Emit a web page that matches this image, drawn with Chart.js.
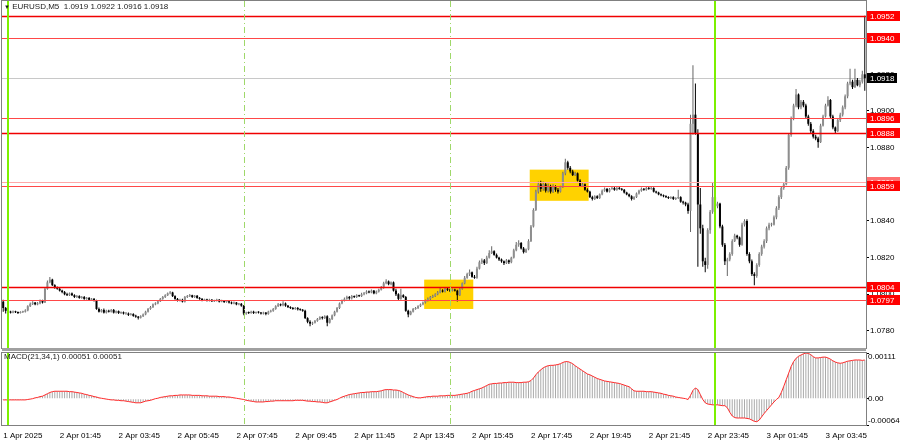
<!DOCTYPE html>
<html>
<head>
    <title>EURUSD,M5</title>
    <style>
        body{ margin:0; background:#fff; }
        #wrap{ position:relative; width:900px; height:441px; overflow:hidden; }
        canvas{ position:absolute; left:0; }
        #price{ top:0; }
        #macd{ top:350px; }
        .caption{ position:absolute; font:8px "Liberation Sans", Arial, sans-serif; line-height:10px; color:#1a1a1a; white-space:pre; }
        .sep{ position:absolute; left:2px; top:348px; width:864px; height:3px; background:#a0a0a0; }
    </style>
</head>
<body>
<div id="wrap">
    <canvas id="price" width="900" height="350"></canvas>
    <canvas id="macd" width="900" height="91"></canvas>
    <div class="sep"></div>
    <div class="caption" style="left:4px;top:2px"><span style="font-size:6px">▼</span> EURUSD,M5  1.0919 1.0922 1.0916 1.0918</div>
    <div class="caption" style="left:4px;top:352px">MACD(21,34,1) 0.00051 0.00051</div>
</div>

<script src="https://cdn.jsdelivr.net/npm/chart.js@4.4.0/dist/chart.umd.min.js"></script>
<script>

    // M5 bars, first one is 1 Apr 23:50
    const firstOpen = 1.07960;

    const closes = [
        1.07925, 1.07910,
        1.07905, 1.07900, 1.07906, 1.07902, 1.07898, 1.07903, 1.07905, 1.07912, 1.07935, 1.07948, 1.07955, 1.07945,
        1.07950, 1.07965, 1.07955, 1.08030, 1.08065, 1.08080, 1.08050, 1.08035, 1.08030, 1.08020, 1.08012, 1.08000,
        1.07995, 1.08005, 1.07995, 1.07985, 1.07990, 1.07980, 1.07985, 1.07975, 1.07980, 1.07970, 1.07975, 1.07965,
        1.07920, 1.07905, 1.07915, 1.07900, 1.07910, 1.07905, 1.07915, 1.07900, 1.07908, 1.07898, 1.07902, 1.07895,
        1.07895, 1.07888, 1.07892, 1.07882, 1.07878, 1.07872, 1.07880, 1.07890, 1.07905, 1.07920, 1.07930, 1.07945,
        1.07950, 1.07962, 1.07975, 1.07985, 1.07995, 1.08005, 1.08010, 1.07990, 1.07975, 1.07965, 1.07970, 1.07960,
        1.07985, 1.07990, 1.07995, 1.07985, 1.07992, 1.07980, 1.07975, 1.07968, 1.07972, 1.07965, 1.07970, 1.07962,
        1.07965, 1.07970, 1.07960, 1.07965, 1.07958, 1.07962, 1.07955, 1.07950, 1.07955, 1.07945, 1.07948, 1.07938,
        1.07895, 1.07900, 1.07898, 1.07905, 1.07898, 1.07902, 1.07900, 1.07895, 1.07900, 1.07893, 1.07905, 1.07910, 1.07920,
        1.07935, 1.07945, 1.07940, 1.07950, 1.07938, 1.07930, 1.07925, 1.07920, 1.07925, 1.07918, 1.07915, 1.07910,
        1.07870, 1.07850, 1.07840, 1.07845, 1.07855, 1.07865, 1.07875, 1.07870, 1.07880, 1.07845, 1.07865, 1.07885,
        1.07905, 1.07925, 1.07950, 1.07965, 1.07975, 1.07985, 1.07978, 1.07990, 1.07985, 1.07995, 1.07990, 1.08000,
        1.08005, 1.08015, 1.08010, 1.08020, 1.08005, 1.08015, 1.08025, 1.08035, 1.08060, 1.08070, 1.08055, 1.08065,
        1.08020, 1.08000, 1.07975, 1.07995, 1.07985, 1.07910, 1.07890, 1.07905, 1.07920, 1.07925, 1.07935, 1.07945,
        1.07955, 1.07965, 1.07975, 1.07985, 1.07990, 1.08000, 1.08010, 1.08020, 1.08015, 1.08030, 1.08025, 1.08020,
        1.08025, 1.08020, 1.07995, 1.08030, 1.08060, 1.08090, 1.08110, 1.08120, 1.08095, 1.08090, 1.08140, 1.08175,
        1.08185, 1.08170, 1.08200, 1.08225, 1.08235, 1.08215, 1.08200, 1.08190, 1.08180, 1.08170, 1.08185, 1.08175,
        1.08200, 1.08240, 1.08270, 1.08280, 1.08250, 1.08230, 1.08245, 1.08290, 1.08370, 1.08460, 1.08560, 1.08600,
        1.08575, 1.08600, 1.08565, 1.08590, 1.08560, 1.08585, 1.08570, 1.08560, 1.08585, 1.08660, 1.08720, 1.08690,
        1.08670, 1.08650, 1.08660, 1.08620, 1.08590, 1.08600, 1.08570, 1.08560, 1.08530, 1.08520, 1.08535, 1.08525,
        1.08545, 1.08565, 1.08575, 1.08560, 1.08575, 1.08580, 1.08570, 1.08580, 1.08575, 1.08570, 1.08555, 1.08545,
        1.08535, 1.08520, 1.08530, 1.08550, 1.08565, 1.08575, 1.08570, 1.08580, 1.08575, 1.08580, 1.08560, 1.08555,
        1.08545, 1.08540, 1.08535, 1.08530, 1.08525, 1.08530, 1.08520, 1.08525, 1.08530, 1.08505, 1.08500, 1.08490,
        1.08455, 1.08930, 1.08980, 1.08880, 1.08490, 1.08360, 1.08180, 1.08160, 1.08350, 1.08450, 1.08530, 1.08480,
        1.08495, 1.08370, 1.08270, 1.08180, 1.08190, 1.08220, 1.08290, 1.08320, 1.08310, 1.08270, 1.08380, 1.08400,
        1.08220, 1.08180, 1.08110, 1.08100, 1.08160, 1.08220, 1.08260, 1.08290, 1.08360, 1.08380, 1.08380, 1.08420, 1.08470,
        1.08530, 1.08580, 1.08600, 1.08690, 1.08870, 1.08960, 1.09030, 1.09090, 1.09020, 1.09050, 1.09030, 1.08970,
        1.08930, 1.08890, 1.08860, 1.08850, 1.08830, 1.08920, 1.08970, 1.09030, 1.09060, 1.08970, 1.08910, 1.08890,
        1.08950, 1.08980, 1.09020, 1.09080, 1.09150, 1.09160, 1.09130, 1.09170, 1.09140, 1.09160, 1.09200, 1.09180
    ];

    const highs = [
        1.07970, 1.07930,
        1.07915, 1.07910, 1.07912, 1.07910, 1.07906, 1.07908, 1.07910, 1.07918, 1.07940, 1.07955, 1.07962, 1.07958,
        1.07958, 1.07972, 1.07970, 1.08040, 1.08075, 1.08095, 1.08085, 1.08055, 1.08042, 1.08035, 1.08025, 1.08018,
        1.08008, 1.08010, 1.08010, 1.08000, 1.07996, 1.07995, 1.07990, 1.07990, 1.07985, 1.07985, 1.07980, 1.07980,
        1.07970, 1.07928, 1.07920, 1.07922, 1.07915, 1.07915, 1.07920, 1.07920, 1.07912, 1.07912, 1.07906, 1.07906,
        1.07902, 1.07900, 1.07898, 1.07896, 1.07888, 1.07882, 1.07885, 1.07895, 1.07910, 1.07925, 1.07936, 1.07950,
        1.07956, 1.07968, 1.07980, 1.07990, 1.08000, 1.08010, 1.08018, 1.08014, 1.07995, 1.07980, 1.07976, 1.07975,
        1.07990, 1.07996, 1.08002, 1.07998, 1.07996, 1.07996, 1.07985, 1.07980, 1.07976, 1.07976, 1.07975, 1.07974,
        1.07970, 1.07975, 1.07974, 1.07970, 1.07968, 1.07966, 1.07966, 1.07960, 1.07960, 1.07958, 1.07952, 1.07952,
        1.07942, 1.07905, 1.07906, 1.07910, 1.07910, 1.07906, 1.07908, 1.07904, 1.07905, 1.07904, 1.07910, 1.07916, 1.07925,
        1.07940, 1.07952, 1.07950, 1.07962, 1.07955, 1.07942, 1.07935, 1.07930, 1.07930, 1.07930, 1.07922, 1.07920,
        1.07915, 1.07875, 1.07858, 1.07850, 1.07860, 1.07870, 1.07880, 1.07880, 1.07885, 1.07885, 1.07870, 1.07890,
        1.07910, 1.07930, 1.07955, 1.07972, 1.07982, 1.07992, 1.07990, 1.07996, 1.07994, 1.08000, 1.07998, 1.08008,
        1.08012, 1.08022, 1.08020, 1.08026, 1.08024, 1.08020, 1.08030, 1.08045, 1.08068, 1.08082, 1.08075, 1.08070,
        1.08070, 1.08030, 1.08005, 1.08030, 1.08000, 1.07990, 1.07915, 1.07910, 1.07925, 1.07930, 1.07940, 1.07950,
        1.07960, 1.07972, 1.07982, 1.07990, 1.07998, 1.08006, 1.08018, 1.08040, 1.08028, 1.08036, 1.08035, 1.08030,
        1.08032, 1.08030, 1.08025, 1.08035, 1.08065, 1.08100, 1.08118, 1.08135, 1.08125, 1.08105, 1.08150, 1.08185,
        1.08195, 1.08192, 1.08210, 1.08240, 1.08262, 1.08240, 1.08222, 1.08205, 1.08195, 1.08185, 1.08192, 1.08190,
        1.08205, 1.08248, 1.08285, 1.08295, 1.08285, 1.08258, 1.08250, 1.08300, 1.08378, 1.08470, 1.08570, 1.08615,
        1.08620, 1.08615, 1.08610, 1.08605, 1.08598, 1.08600, 1.08595, 1.08580, 1.08592, 1.08668, 1.08740, 1.08728,
        1.08700, 1.08680, 1.08668, 1.08665, 1.08628, 1.08610, 1.08605, 1.08578, 1.08565, 1.08538, 1.08540, 1.08540,
        1.08550, 1.08572, 1.08582, 1.08580, 1.08580, 1.08588, 1.08585, 1.08586, 1.08585, 1.08580, 1.08575, 1.08560,
        1.08550, 1.08540, 1.08535, 1.08555, 1.08570, 1.08582, 1.08580, 1.08586, 1.08585, 1.08585, 1.08584, 1.08565,
        1.08560, 1.08550, 1.08545, 1.08540, 1.08535, 1.08535, 1.08535, 1.08530, 1.08570, 1.08535, 1.08510, 1.08505,
        1.08500, 1.08980, 1.09250, 1.09150, 1.08900, 1.08580, 1.08380, 1.08200, 1.08360, 1.08460, 1.08610, 1.08540,
        1.08505, 1.08500, 1.08380, 1.08280, 1.08200, 1.08230, 1.08300, 1.08330, 1.08325, 1.08315, 1.08390, 1.08410,
        1.08410, 1.08230, 1.08190, 1.08120, 1.08170, 1.08230, 1.08270, 1.08300, 1.08370, 1.08390, 1.08390, 1.08430, 1.08480,
        1.08540, 1.08590, 1.08610, 1.08700, 1.08880, 1.08970, 1.09040, 1.09120, 1.09095, 1.09060, 1.09060, 1.09040,
        1.08980, 1.08940, 1.08900, 1.08870, 1.08860, 1.08930, 1.08980, 1.09040, 1.09080, 1.09065, 1.08980, 1.08915,
        1.08960, 1.08990, 1.09030, 1.09090, 1.09160, 1.09230, 1.09170, 1.09230, 1.09180, 1.09170, 1.09220, 1.09520
    ];

    const lows = [
        1.07905, 1.07895,
        1.07898, 1.07895, 1.07896, 1.07898, 1.07892, 1.07895, 1.07898, 1.07900, 1.07908, 1.07930, 1.07942, 1.07940,
        1.07940, 1.07945, 1.07950, 1.07952, 1.08025, 1.08060, 1.08045, 1.08030, 1.08025, 1.08015, 1.08005, 1.07995,
        1.07990, 1.07990, 1.07990, 1.07980, 1.07980, 1.07975, 1.07976, 1.07970, 1.07970, 1.07965, 1.07966, 1.07960,
        1.07915, 1.07900, 1.07900, 1.07895, 1.07895, 1.07900, 1.07900, 1.07895, 1.07895, 1.07892, 1.07893, 1.07890,
        1.07888, 1.07882, 1.07884, 1.07878, 1.07872, 1.07862, 1.07868, 1.07876, 1.07886, 1.07900, 1.07915, 1.07925,
        1.07940, 1.07946, 1.07958, 1.07970, 1.07980, 1.07990, 1.08000, 1.07985, 1.07970, 1.07960, 1.07960, 1.07955,
        1.07955, 1.07980, 1.07985, 1.07980, 1.07980, 1.07976, 1.07970, 1.07962, 1.07964, 1.07960, 1.07960, 1.07958,
        1.07958, 1.07960, 1.07955, 1.07956, 1.07953, 1.07954, 1.07950, 1.07945, 1.07946, 1.07940, 1.07940, 1.07932,
        1.07885, 1.07888, 1.07892, 1.07894, 1.07892, 1.07894, 1.07895, 1.07890, 1.07890, 1.07886, 1.07888, 1.07900, 1.07905,
        1.07915, 1.07930, 1.07935, 1.07935, 1.07932, 1.07925, 1.07920, 1.07915, 1.07916, 1.07912, 1.07910, 1.07905,
        1.07865, 1.07842, 1.07825, 1.07832, 1.07840, 1.07850, 1.07860, 1.07862, 1.07865, 1.07825, 1.07840, 1.07860,
        1.07880, 1.07900, 1.07920, 1.07945, 1.07960, 1.07970, 1.07970, 1.07972, 1.07980, 1.07980, 1.07985, 1.07985,
        1.07995, 1.08000, 1.08005, 1.08005, 1.08000, 1.08000, 1.08010, 1.08020, 1.08030, 1.08055, 1.08050, 1.08050,
        1.08015, 1.07990, 1.07965, 1.07970, 1.07980, 1.07905, 1.07875, 1.07885, 1.07900, 1.07915, 1.07920, 1.07930,
        1.07940, 1.07950, 1.07960, 1.07968, 1.07980, 1.07985, 1.07995, 1.08005, 1.08010, 1.08010, 1.08018, 1.08012,
        1.08015, 1.08015, 1.07960, 1.07990, 1.08025, 1.08055, 1.08085, 1.08100, 1.08090, 1.08085, 1.08085, 1.08135,
        1.08165, 1.08160, 1.08165, 1.08195, 1.08220, 1.08210, 1.08195, 1.08182, 1.08172, 1.08160, 1.08165, 1.08165,
        1.08170, 1.08195, 1.08235, 1.08260, 1.08245, 1.08222, 1.08225, 1.08240, 1.08285, 1.08365, 1.08455, 1.08550,
        1.08560, 1.08565, 1.08555, 1.08555, 1.08550, 1.08552, 1.08560, 1.08550, 1.08555, 1.08580, 1.08650, 1.08680,
        1.08660, 1.08645, 1.08645, 1.08615, 1.08585, 1.08585, 1.08565, 1.08555, 1.08525, 1.08512, 1.08515, 1.08520,
        1.08520, 1.08540, 1.08560, 1.08555, 1.08555, 1.08570, 1.08565, 1.08565, 1.08570, 1.08565, 1.08550, 1.08540,
        1.08530, 1.08512, 1.08515, 1.08525, 1.08545, 1.08560, 1.08565, 1.08565, 1.08570, 1.08570, 1.08555, 1.08550,
        1.08540, 1.08535, 1.08530, 1.08525, 1.08520, 1.08520, 1.08515, 1.08515, 1.08520, 1.08500, 1.08490, 1.08480,
        1.08440, 1.08340, 1.08870, 1.08870, 1.08150, 1.08330, 1.08150, 1.08120, 1.08140, 1.08330, 1.08440, 1.08470,
        1.08470, 1.08360, 1.08260, 1.08160, 1.08100, 1.08180, 1.08210, 1.08285, 1.08300, 1.08260, 1.08265, 1.08370,
        1.08210, 1.08170, 1.08100, 1.08050, 1.08090, 1.08150, 1.08210, 1.08250, 1.08280, 1.08350, 1.08370, 1.08375, 1.08410,
        1.08460, 1.08520, 1.08570, 1.08595, 1.08680, 1.08860, 1.08950, 1.09020, 1.09010, 1.09010, 1.09020, 1.08960,
        1.08920, 1.08880, 1.08850, 1.08840, 1.08800, 1.08825, 1.08915, 1.08965, 1.09025, 1.08960, 1.08900, 1.08880,
        1.08885, 1.08940, 1.08970, 1.09010, 1.09070, 1.09140, 1.09120, 1.09125, 1.09135, 1.09130, 1.09150, 1.09110
    ];

    // MACD(21,34,1), in points of 0.00001
    const macdPoints = [
        -3, -3, -3, -3, -3, -3, -3, -3, -3, -3,
        -2, -1, 0, 2, 3, 5, 6, 9, 12, 15,
        17, 18, 18, 18, 18, 18, 18, 17, 17, 16,
        15, 14, 13, 11, 10, 8, 7, 5, 4, 2,
        1, 0, -1, -2, -3, -3, -4, -4, -5, -5,
        -6, -7, -8, -9, -10, -10, -10, -8, -6, -5,
        -4, -2, 0, 1, 3, 4, 5, 6, 7, 7,
        8, 8, 9, 9, 9, 9, 9, 8, 8, 8,
        8, 7, 7, 7, 6, 6, 6, 6, 5, 5,
        5, 4, 4, 3, 2, 1, 0, -1, -2, -4,
        -5, -6, -7, -8, -8, -8, -8, -7, -7, -6,
        -6, -5, -5, -5, -5, -5, -5, -5, -5, -4,
        -4, -4, -4, -5, -6, -6, -7, -7, -8, -8,
        -9, -10, -10, -8, -6, -4, -2, 1, 4, 6,
        8, 10, 11, 12, 13, 14, 15, 15, 16, 16,
        17, 17, 17, 18, 19, 21, 22, 22, 22, 21,
        21, 20, 18, 15, 12, 9, 7, 5, 3, 2,
        2, 3, 4, 5, 5, 6, 6, 6, 7, 7,
        7, 8, 8, 8, 8, 9, 10, 11, 12, 13,
        15, 18, 20, 22, 24, 26, 29, 32, 35, 36,
        37, 37, 38, 38, 39, 39, 40, 40, 40, 39,
        39, 39, 40, 40, 41, 44, 50, 58, 65, 70,
        75, 78, 80, 81, 81, 82, 83, 85, 88, 90,
        90, 88, 85, 80, 76, 72, 68, 64, 60, 58,
        55, 52, 49, 47, 45, 43, 42, 41, 40, 39,
        38, 37, 35, 33, 31, 29, 24, 19, 18, 18,
        18, 18, 17, 17, 17, 16, 15, 14, 13, 11,
        10, 8, 7, 6, 4, 3, 2, 1, 0, -2,
        8, 20, 26, 22, 10, -2, -10, -13, -14, -15,
        -15, -15, -16, -17, -17, -22, -33, -42, -46, -47,
        -47, -47, -47, -48, -49, -52, -55, -56, -52, -44,
        -36, -29, -22, -15, -8, -2, 3, 15, 30, 46,
        62, 78, 90, 98, 103, 106, 109, 111, 110, 107,
        102, 99, 99, 100, 101, 101, 99, 96, 92, 89,
        87, 86, 87, 89, 91, 92, 93, 94, 94, 94, 93, 94
    ];

    const priceTicks = [1.0780, 1.0800, 1.0820, 1.0840, 1.0860, 1.0880, 1.0900, 1.0920, 1.0940];
    const macdAxisMarks = [111, 0, -64];

    const firstTickLabel = '1 Apr 2025';
    const timeTicks = ['2 Apr 01:45', '2 Apr 03:45', '2 Apr 05:45', '2 Apr 07:45', '2 Apr 09:45',
        '2 Apr 11:45', '2 Apr 13:45', '2 Apr 15:45', '2 Apr 17:45', '2 Apr 19:45', '2 Apr 21:45',
        '2 Apr 23:45', '3 Apr 01:45', '3 Apr 03:45'];

    // horizontal levels drawn on the chart
    const mainLevels = [1.0952, 1.0888, 1.0804];
    const sideLevels = [1.0940, 1.0896, 1.0797];
    const faintLevels = [1.0861];
    const lastLevels = [1.0859];
    const lastPrice = 1.0918;

    const dayStarts = ['2 Apr 00:00', '3 Apr 00:00'];
    const sessionOpens = ['2 Apr 08:00', '2 Apr 15:00'];

    // highlighted zones
    const zoneFrom = ['2 Apr 14:10', '2 Apr 17:45'];
    const zoneTo = ['2 Apr 15:45', '2 Apr 19:40'];
    const zoneHigh = [1.0808, 1.0868];
    const zoneLow = [1.0792, 1.0851];


    const months = ['Jan', 'Feb', 'Mar', 'Apr', 'May', 'Jun', 'Jul', 'Aug', 'Sep', 'Oct', 'Nov', 'Dec'];
    const firstBar = Date.UTC(2025, 3, 1, 23, 50);
    const pad = n => (n < 10 ? '0' : '') + n;
    const barTimes = closes.map((c, i) => {
        const d = new Date(firstBar + i * 5 * 60000);
        return d.getUTCDate() + ' ' + months[d.getUTCMonth()] + ' ' + pad(d.getUTCHours()) + ':' + pad(d.getUTCMinutes());
    });
    const opens = [firstOpen].concat(closes.slice(0, -1));
    const isUp = i => closes[i] >= opens[i];

    const UP_BODY = '#8e8e8e', UP_WICK = '#666666', DOWN = '#000000';
    const FONT = '8px "Liberation Sans", Arial, sans-serif';

    Chart.defaults.font.family = '"Liberation Sans", Arial, sans-serif';
    Chart.defaults.font.size = 8;
    Chart.defaults.color = '#000';

    const fixY = s => { s.width = 34; s.paddingTop = 0; s.paddingBottom = 0; };

    const framePlugin = {
        id: 'frame',
        afterDraw(chart) {
            const {ctx, chartArea: a} = chart;
            ctx.save();
            ctx.strokeStyle = '#808080';
            ctx.lineWidth = 1;
            ctx.strokeRect(a.left - 0.5, a.top - 0.5, a.right - a.left + 1, a.bottom - a.top + 1);
            ctx.restore();
        }
    };

    const vlinePlugin = {
        id: 'vlines',
        afterDatasetsDraw(chart) {
            const {ctx, chartArea: a, scales: {x}} = chart;
            ctx.save();
            ctx.beginPath();
            ctx.rect(a.left, a.top, a.right - a.left, a.bottom - a.top);
            ctx.clip();
            ctx.strokeStyle = '#9fd86a';
            ctx.lineWidth = 1;
            ctx.setLineDash([6, 3, 1, 3]);
            sessionOpens.forEach(t => {
                const px = Math.round(x.getPixelForValue(barTimes.indexOf(t))) + 0.5;
                ctx.beginPath(); ctx.moveTo(px, a.top); ctx.lineTo(px, a.bottom); ctx.stroke();
            });
            ctx.setLineDash([]);
            ctx.strokeStyle = '#7cf000';
            ctx.lineWidth = 2;
            dayStarts.forEach(t => {
                const px = Math.round(x.getPixelForValue(barTimes.indexOf(t)));
                ctx.beginPath(); ctx.moveTo(px, a.top); ctx.lineTo(px, a.bottom); ctx.stroke();
            });
            ctx.restore();
        }
    };

    const zonePlugin = {
        id: 'zones',
        beforeDatasetsDraw(chart) {
            const {ctx, scales: {x, y}} = chart;
            const half = (x.getPixelForValue(1) - x.getPixelForValue(0)) / 2;
            ctx.save();
            ctx.fillStyle = '#ffd200';
            zoneFrom.forEach((t, k) => {
                const x0 = x.getPixelForValue(barTimes.indexOf(t)) - half;
                const x1 = x.getPixelForValue(barTimes.indexOf(zoneTo[k])) + half;
                const y0 = y.getPixelForValue(zoneHigh[k]);
                const y1 = y.getPixelForValue(zoneLow[k]);
                ctx.fillRect(x0, y0, x1 - x0, y1 - y0);
            });
            // bid line
            const py = Math.round(y.getPixelForValue(lastPrice)) + 0.5;
            ctx.strokeStyle = '#c8c8c8';
            ctx.lineWidth = 1;
            ctx.beginPath(); ctx.moveTo(chart.chartArea.left, py); ctx.lineTo(chart.chartArea.right, py); ctx.stroke();
            ctx.restore();
        }
    };

    function levelStyle(v) {
        if (mainLevels.includes(v)) return {line: '#f00000', width: 1.6, box: '#ff0000'};
        if (faintLevels.includes(v)) return {line: '#ffa8a8', width: 1, box: '#ff7070'};
        return {line: '#ff4848', width: 1, box: '#ff0000'};
    }
    const allLevels = mainLevels.concat(sideLevels, faintLevels, lastLevels);

    const levelPlugin = {
        id: 'levels',
        afterDatasetsDraw(chart) {
            const {ctx, chartArea: a, scales: {y}} = chart;
            ctx.save();
            allLevels.forEach(v => {
                const st = levelStyle(v);
                const py = Math.round(y.getPixelForValue(v)) + 0.5;
                ctx.strokeStyle = st.line;
                ctx.lineWidth = st.width;
                ctx.beginPath(); ctx.moveTo(a.left, py); ctx.lineTo(a.right, py); ctx.stroke();
            });
            ctx.restore();
        },
        afterDraw(chart) {
            const {ctx, chartArea: a, scales: {y}} = chart;
            ctx.save();
            ctx.font = FONT;
            ctx.textBaseline = 'middle';
            ctx.textAlign = 'left';
            allLevels.forEach(v => {
                const py = Math.round(y.getPixelForValue(v));
                ctx.fillStyle = levelStyle(v).box;
                ctx.fillRect(a.right + 1, py - 5, 34, 10);
                ctx.fillStyle = '#fff';
                ctx.fillText(v.toFixed(4), a.right + 4, py + 0.5);
            });
            const py = Math.round(y.getPixelForValue(lastPrice));
            ctx.fillStyle = '#000';
            ctx.fillRect(a.right + 1, py - 5, 30, 10);
            ctx.fillStyle = '#fff';
            ctx.fillText(lastPrice.toFixed(4), a.right + 4, py + 0.5);
            ctx.restore();
        }
    };

    const macdLabelPlugin = {
        id: 'macdLabels',
        afterDraw(chart) {
            const {ctx, chartArea: a, scales: {y}} = chart;
            ctx.save();
            ctx.font = FONT;
            ctx.fillStyle = '#000';
            ctx.textBaseline = 'middle';
            ctx.textAlign = 'left';
            macdAxisMarks.forEach(v => {
                let py = y.getPixelForValue(v);
                py = Math.min(Math.max(py, a.top + 4), a.bottom - 4);
                ctx.fillText(v === 0 ? '0.00' : (v / 100000).toFixed(5), a.right + 2, py);
            });
            ctx.restore();
        }
    };

    const priceChart = new Chart('price', {
        type: 'bar',
        data: {
            labels: barTimes,
            datasets: [{
                data: closes.map((c, i) => [opens[i], c]),
                backgroundColor: c => isUp(c.dataIndex) ? UP_BODY : DOWN,
                barThickness: 2,
                minBarLength: 1,
                grouped: false,
                inflateAmount: 0,
                order: 0
            }, {
                data: closes.map((c, i) => [lows[i], highs[i]]),
                backgroundColor: c => isUp(c.dataIndex) ? UP_WICK : DOWN,
                barThickness: 1,
                grouped: false,
                inflateAmount: 0,
                order: 1
            }]
        },
        options: {
            responsive: false,
            animation: false,
            events: [],
            layout: { padding: { left: 2, top: 1, right: 0, bottom: 2 } },
            plugins: { legend: { display: false }, tooltip: { enabled: false } },
            scales: {
                x: { display: false, offset: true },
                y: {
                    position: 'right',
                    min: 1.07707,
                    max: 1.09600,
                    afterFit: fixY,
                    afterBuildTicks: s => { s.ticks = priceTicks.map(v => ({ value: v })); },
                    ticks: { autoSkip: false, padding: 1, callback: v => v.toFixed(4) },
                    grid: { drawOnChartArea: false, tickLength: 3, color: '#000' },
                    border: { color: '#808080' }
                }
            }
        },
        plugins: [zonePlugin, levelPlugin, vlinePlugin, framePlugin]
    });

    const macdChart = new Chart('macd', {
        type: 'bar',
        data: {
            labels: barTimes,
            datasets: [{
                type: 'line',
                data: macdPoints,
                borderColor: '#ff2a2a',
                borderWidth: 1,
                pointRadius: 0,
                tension: 0,
                order: 0
            }, {
                data: macdPoints,
                backgroundColor: '#aaaaaa',
                barThickness: 1,
                grouped: false,
                inflateAmount: 0,
                order: 1
            }]
        },
        options: {
            responsive: false,
            animation: false,
            events: [],
            layout: { padding: { left: 2, top: 3, right: 0, bottom: 0 } },
            plugins: { legend: { display: false }, tooltip: { enabled: false } },
            scales: {
                x: {
                    offset: true,
                    afterFit: s => { s.height = 16; s.paddingLeft = 0; s.paddingRight = 0; },
                    grid: { display: false },
                    border: { display: false },
                    ticks: {
                        autoSkip: false,
                        maxRotation: 0,
                        minRotation: 0,
                        align: 'start',
                        padding: -2,
                        callback: (v, i) => i === 0 ? firstTickLabel : (timeTicks.includes(barTimes[i]) ? barTimes[i] : '')
                    }
                },
                y: {
                    position: 'right',
                    min: -64,
                    max: 111,
                    afterFit: fixY,
                    afterBuildTicks: s => { s.ticks = macdAxisMarks.map(v => ({ value: v })); },
                    ticks: { display: false },
                    grid: { drawOnChartArea: false, tickLength: 3, color: '#000' },
                    border: { color: '#808080' }
                }
            }
        },
        plugins: [vlinePlugin, macdLabelPlugin, framePlugin]
    });

</script>
</body>
</html>
